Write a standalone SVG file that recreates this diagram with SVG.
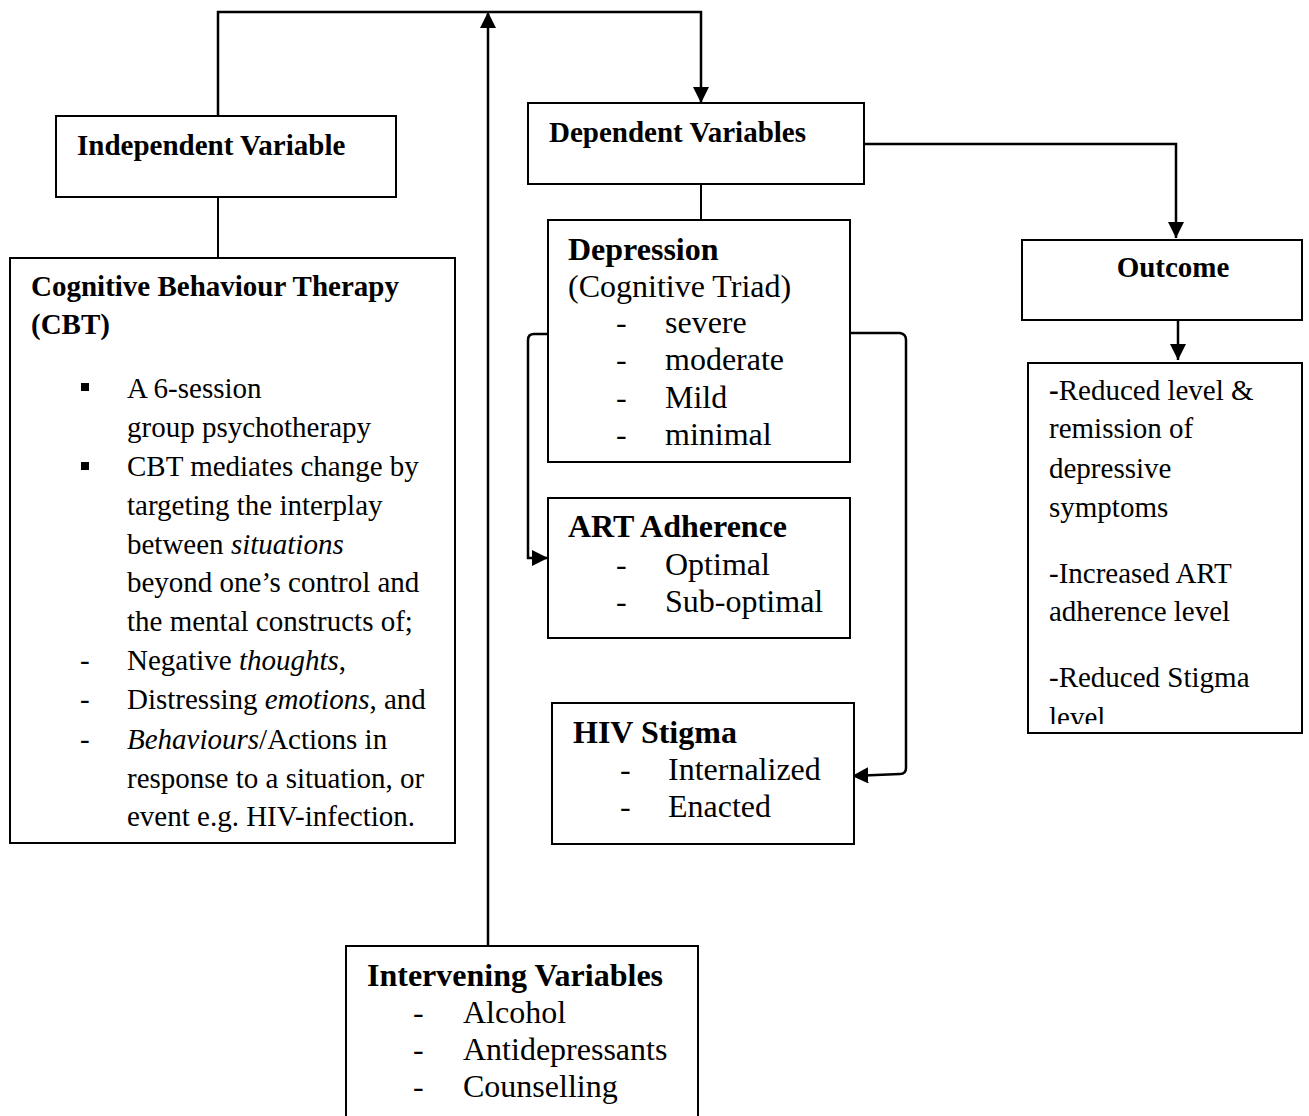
<svg xmlns="http://www.w3.org/2000/svg" width="1309" height="1116" viewBox="0 0 1309 1116">
<style>
.box{fill:#fff;stroke:#000;stroke-width:2}
.con{fill:none;stroke:#000;stroke-width:2.5}
.t{font-family:"Liberation Serif","Times New Roman",serif;fill:#000}
.h29{font-size:29px;font-weight:bold}
.h32{font-size:32px;font-weight:bold}
.r29{font-size:29px}
.r32{font-size:32px}
.i{font-style:italic}
</style>
<defs>
<marker id="ah" viewBox="0 0 10 10" refX="10" refY="5" markerWidth="6.5" markerHeight="6.5" orient="auto" markerUnits="strokeWidth">
<path d="M0,0 L10,5 L0,10 Z" fill="#000"/>
</marker>
<clipPath id="clipOut"><rect x="1028" y="363" width="274" height="361"/></clipPath>
</defs>
<rect width="1309" height="1116" fill="#fff"/>

<g id="connectors">
<path class="con" d="M218,116 V12 H701 V103" marker-end="url(#ah)"/>
<path class="con" d="M488,946 V12" marker-end="url(#ah)"/>
<path class="con" style="stroke-width:2" d="M218,197 V258"/>
<path class="con" style="stroke-width:2" d="M701,184 V220"/>
<path class="con" d="M864,144 H1176 V238" marker-end="url(#ah)"/>
<path class="con" d="M1178,320 V360" marker-end="url(#ah)"/>
<path class="con" d="M548,334 H534 Q528,334 528,340 V558 H548" marker-end="url(#ah)"/>
<path class="con" d="M850,333 H900 Q906,334 906,340 V768 Q906,774 900,774 L852,776" marker-end="url(#ah)"/>
</g>

<g id="independent">
<rect class="box" x="56" y="116" width="340" height="81"/>
<text class="t h29" x="77" y="155">Independent Variable</text>
</g>

<g id="cbt">
<rect class="box" x="10" y="258" width="445" height="585"/>
<text class="t h29" x="31" y="296">Cognitive Behaviour Therapy</text>
<text class="t h29" x="31" y="334">(CBT)</text>
<rect x="81" y="383" width="8" height="8" fill="#000"/>
<rect x="81" y="462" width="8" height="8" fill="#000"/>
<g class="t r29">
<text x="127" y="398">A 6-session</text>
<text x="127" y="437">group psychotherapy</text>
<text x="127" y="476">CBT mediates change by</text>
<text x="127" y="515">targeting the interplay</text>
<text x="127" y="554">between <tspan class="i">situations</tspan></text>
<text x="127" y="592">beyond one’s control and</text>
<text x="127" y="631">the mental constructs of;</text>
<text x="80" y="670">-</text>
<text x="127" y="670">Negative <tspan class="i">thoughts</tspan>,</text>
<text x="80" y="709">-</text>
<text x="127" y="709">Distressing <tspan class="i">emotions</tspan>, and</text>
<text x="80" y="749">-</text>
<text x="127" y="749"><tspan class="i">Behaviours</tspan>/Actions in</text>
<text x="127" y="788">response to a situation, or</text>
<text x="127" y="826">event e.g. HIV-infection.</text>
</g>
</g>

<g id="dependent">
<rect class="box" x="528" y="103" width="336" height="81"/>
<text class="t h29" x="549" y="142">Dependent Variables</text>
</g>

<g id="depression">
<rect class="box" x="548" y="220" width="302" height="242"/>
<text class="t h32" x="568" y="260">Depression</text>
<g class="t r32">
<text x="568" y="297">(Cognitive Triad)</text>
<text x="616" y="333">-</text><text x="665" y="333">severe</text>
<text x="616" y="370">-</text><text x="665" y="370">moderate</text>
<text x="616" y="408">-</text><text x="665" y="408">Mild</text>
<text x="616" y="445">-</text><text x="665" y="445">minimal</text>
</g>
</g>

<g id="art">
<rect class="box" x="548" y="498" width="302" height="140"/>
<text class="t h32" x="568" y="537">ART Adherence</text>
<g class="t r32">
<text x="616" y="575">-</text><text x="665" y="575">Optimal</text>
<text x="616" y="612">-</text><text x="665" y="612">Sub-optimal</text>
</g>
</g>

<g id="stigma">
<rect class="box" x="552" y="703" width="302" height="141"/>
<text class="t h32" x="573" y="743">HIV Stigma</text>
<g class="t r32">
<text x="620" y="780">-</text><text x="668" y="780">Internalized</text>
<text x="620" y="817">-</text><text x="668" y="817">Enacted</text>
</g>
</g>

<g id="outcome">
<rect class="box" x="1022" y="240" width="280" height="80"/>
<text class="t h29" x="1173" y="277" text-anchor="middle">Outcome</text>
</g>

<g id="results">
<rect class="box" x="1028" y="363" width="274" height="370"/>
<g class="t r29" clip-path="url(#clipOut)">
<text x="1049" y="400"><tspan font-weight="bold">-</tspan>Reduced level &amp;</text>
<text x="1049" y="438">remission of</text>
<text x="1049" y="478">depressive</text>
<text x="1049" y="517">symptoms</text>
<text x="1049" y="583">-Increased ART</text>
<text x="1049" y="621">adherence level</text>
<text x="1049" y="687">-Reduced Stigma</text>
<text x="1049" y="727">level</text>
</g>
</g>

<g id="intervening">
<rect class="box" x="346" y="946" width="352" height="180"/>
<text class="t h32" x="367" y="986">Intervening Variables</text>
<g class="t r32">
<text x="413" y="1023">-</text><text x="463" y="1023">Alcohol</text>
<text x="413" y="1060">-</text><text x="463" y="1060">Antidepressants</text>
<text x="413" y="1097">-</text><text x="463" y="1097">Counselling</text>
</g>
</g>
</svg>
